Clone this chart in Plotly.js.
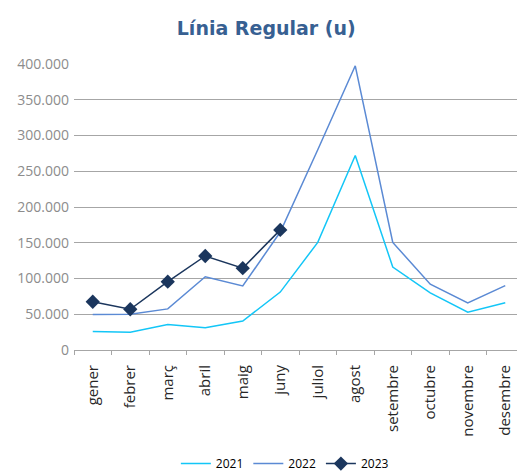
<!DOCTYPE html>
<html>
<head>
<meta charset="utf-8">
<script src="https://cdn.plot.ly/plotly-3.0.1.min.js"></script>
<style>html,body{margin:0;padding:0;overflow:hidden;background:#fff;}</style>
</head>
<body>
<div id="chart" style="width:517px;height:473px;"></div>
<script>
const months = ["gener","febrer","març","abril","maig","juny","juliol","agost","setembre","octubre","novembre","desembre"];
const yearLabels = ["2021","2022","2023"];
const values2021 = [26000, 25000, 35500, 31000, 40500, 81000, 150500, 272000, 116000, 80000, 53000, 66000];
const values2022 = [49500, 50000, 57500, 102500, 89500, 165000, 280000, 397500, 150500, 92000, 66000, 90000];
const values2023 = [67500, 57000, 95500, 131500, 114500, 168000];
const yTicks = [0, 50000, 100000, 150000, 200000, 250000, 300000, 350000, 400000];

const traces = [
  {x: months, y: values2021, name: yearLabels[0], type: "scatter", mode: "lines",
   line: {color: "#13c6f7", width: 1.5}},
  {x: months, y: values2022, name: yearLabels[1], type: "scatter", mode: "lines",
   line: {color: "#5b8ad4", width: 1.5}},
  {x: months.slice(0, values2023.length), y: values2023, name: yearLabels[2], type: "scatter", mode: "lines+markers",
   line: {color: "#1b365d", width: 1.5},
   marker: {symbol: "diamond", size: 11, color: "#1b365d"}}
];

const layout = {
  width: 517, height: 473,
  margin: {l: 74, r: 0, t: 64, b: 122.5, autoexpand: false},
  separators: ",.",
  paper_bgcolor: "#fff", plot_bgcolor: "#fff",
  title: {text: "Línia Regular (u)", x: 0.515, xanchor: "center", y: 0.94, yanchor: "middle",
          font: {family: "DejaVu Sans", size: 19, color: "#376092", weight: "bold"}},
  showlegend: true,
  legend: {orientation: "h", x: 0.476, xanchor: "center", yref: "container", y: 0.02, yanchor: "middle",
           bgcolor: "rgba(0,0,0,0)",
           font: {family: "Open Sans", size: 12, color: "#000"}, itemwidth: 30},
  xaxis: {
    type: "category", range: [-0.5, 11.313], fixedrange: true, automargin: false,
    tickangle: -90, tickson: "boundaries", ticks: "outside", ticklen: 4, tickcolor: "#a6a6a6",
    showline: true, linecolor: "#a6a6a6", linewidth: 1, showgrid: false,
    tickfont: {family: "Open Sans", size: 15, color: "#262626"},
    ticklabelstandoff: 8
  },
  yaxis: {
    range: [0, 400000], tickvals: yTicks, tickformat: ",d", fixedrange: true, automargin: false,
    showgrid: true, gridcolor: "#a6a6a6", gridwidth: 1, zeroline: false,
    tickfont: {family: "Open Sans", size: 14, color: "#8c8c8c"},
    ticklabelstandoff: 4
  }
};

Plotly.newPlot("chart", traces, layout, {displayModeBar: false, staticPlot: true});
</script>
</body>
</html>
